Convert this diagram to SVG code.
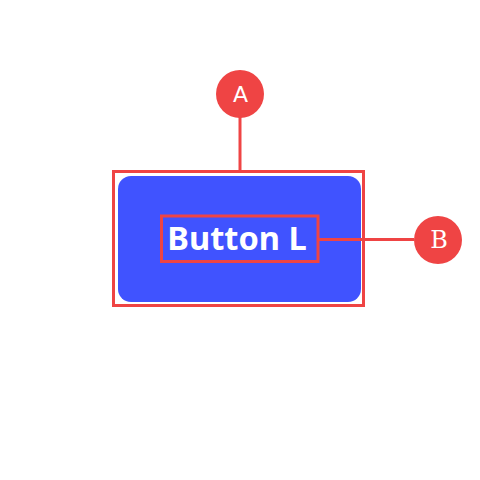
<svg xmlns="http://www.w3.org/2000/svg" width="480" height="480" viewBox="0 0 480 480">
<style>
.red{fill:none;stroke:#EF4444;stroke-width:3}
.badge{fill:#EF4444}
.bl{fill:#fff;text-anchor:middle}
</style>
<rect width="480" height="480" fill="#fff"/>
<g id="button">
<rect x="118" y="176" width="243" height="126" rx="13" fill="#4053FF"/>
<text x="237" y="249.5" font-family="'Noto Sans', 'Liberation Sans', sans-serif" font-weight="bold" font-size="33" fill="#fff" text-anchor="middle" textLength="139.5" lengthAdjust="spacingAndGlyphs">Button L</text>
</g>
<g id="frame-a"><rect class="red" x="113.5" y="171.5" width="250" height="134"/></g>
<g id="frame-b"><rect class="red" x="161.5" y="216" width="156.5" height="45.5"/></g>
<g id="connectors">
<line class="red" x1="240" y1="117" x2="240" y2="171.5"/>
<line class="red" x1="318" y1="239.5" x2="414" y2="239.5"/>
</g>
<g id="badge-a">
<circle class="badge" cx="240" cy="94" r="24"/>
<text class="bl" x="240.5" y="102.3" font-size="22" font-family="'DejaVu Sans', sans-serif">A</text>
</g>
<g id="badge-b">
<circle class="badge" cx="438" cy="240" r="24"/>
<text class="bl" x="439" y="248.3" font-size="24" font-family="'DejaVu Serif', serif">B</text>
</g>
</svg>
